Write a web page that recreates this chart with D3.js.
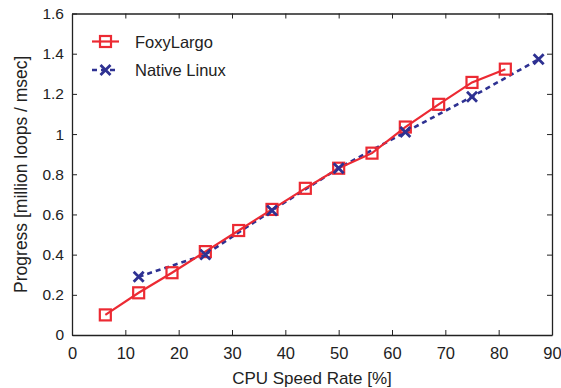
<!DOCTYPE html>
<html><head><meta charset="utf-8">
<script src="https://cdn.jsdelivr.net/npm/d3@7"></script>
<style>body{margin:0;background:#fff;} text{font-family:"Liberation Sans",Arial,sans-serif;}</style>
</head><body>
<svg id="c" width="561" height="388"></svg>
<script>
const foxyX = [6.25,12.5,18.75,25,31.25,37.5,43.75,50,56.25,62.5,68.75,75,81.25];
const foxyY = [0.10,0.21,0.31,0.415,0.52,0.625,0.73,0.83,0.905,1.035,1.148,1.257,1.323];
const nativeX = [12.5,25,37.5,50,62.5,75,87.5];
const nativeY = [0.29,0.40,0.62,0.83,1.01,1.186,1.372];
const xTicks = [0,10,20,30,40,50,60,70,80,90];
const yTicks = [0,0.2,0.4,0.6,0.8,1,1.2,1.4,1.6];
const seriesNames = ["FoxyLargo","Native Linux"];

const svg = d3.select("#c");
const L=72, R=552, T=13.5, B=335;
const x = d3.scaleLinear().domain([0,90]).range([L,R]);
const y = d3.scaleLinear().domain([0,1.6]).range([B,T]);
const red="#ec2a33", blue="#2e3192", ink="#222";

const fmt = d => String(d);
const gx = svg.append("g").attr("transform",`translate(0,${B})`)
  .call(d3.axisBottom(x).tickValues(xTicks).tickFormat(fmt).tickSizeInner(-5).tickSizeOuter(0).tickPadding(12));
svg.append("g").attr("transform",`translate(0,${T})`)
  .call(d3.axisTop(x).tickValues(xTicks).tickFormat("").tickSizeInner(-5).tickSizeOuter(0));
const gy = svg.append("g").attr("transform",`translate(${L},0)`)
  .call(d3.axisLeft(y).tickValues(yTicks).tickFormat(fmt).tickSizeInner(-5).tickSizeOuter(0).tickPadding(8));
svg.append("g").attr("transform",`translate(${R},0)`)
  .call(d3.axisRight(y).tickValues(yTicks).tickFormat("").tickSizeInner(-5).tickSizeOuter(0));
svg.selectAll(".domain").attr("stroke",ink).attr("stroke-width",1.3);
svg.selectAll(".tick line").attr("stroke",ink).attr("stroke-width",1);
svg.selectAll(".tick text").attr("fill",ink).attr("font-family","Liberation Sans, Arial, sans-serif");
gx.selectAll(".tick text").attr("font-size",16.5);
gy.selectAll(".tick text").attr("font-size",15.5);

svg.append("text").attr("x",(L+R)/2).attr("y",384).attr("text-anchor","middle")
  .attr("font-size",17).attr("fill",ink).text("CPU Speed Rate [%]");
svg.append("text").attr("transform",`translate(27,${(T+B)/2}) rotate(-90)`).attr("text-anchor","middle")
  .attr("font-size",17.5).attr("fill",ink).text("Progress [million loops / msec]");

const foxy = foxyX.map((v,i)=>[v,foxyY[i]]);
const nat = nativeX.map((v,i)=>[v,nativeY[i]]);
const line = d3.line().x(d=>x(d[0])).y(d=>y(d[1]));

svg.append("path").datum(nat).attr("d",line).attr("fill","none").attr("stroke",blue)
  .attr("stroke-width",2.6).attr("stroke-dasharray","5,4");
svg.append("path").datum(foxy).attr("d",line).attr("fill","none").attr("stroke",red).attr("stroke-width",2.2);

function square(g,cx,cy){g.append("rect").attr("x",cx-5.5).attr("y",cy-5.5).attr("width",11).attr("height",11)
  .attr("fill","none").attr("stroke",red).attr("stroke-width",2.2);}
function cross(g,cx,cy){const s=5;g.append("path").attr("d",`M${cx-s},${cy-s}L${cx+s},${cy+s}M${cx-s},${cy+s}L${cx+s},${cy-s}`)
  .attr("stroke",blue).attr("stroke-width",2.8);}
const mk = svg.append("g");
foxy.forEach(d=>square(mk,x(d[0]),y(d[1])));
nat.forEach(d=>cross(mk,x(d[0]),y(d[1])));

const lg = svg.append("g");
lg.append("line").attr("x1",92).attr("x2",119).attr("y1",41.5).attr("y2",41.5).attr("stroke",red).attr("stroke-width",2.2);
square(lg,105.5,41.5);
lg.append("line").attr("x1",92).attr("x2",119).attr("y1",70).attr("y2",70).attr("stroke",blue).attr("stroke-width",2.6).attr("stroke-dasharray","5,4");
cross(lg,105.5,70);
lg.append("text").attr("x",135).attr("y",47.5).attr("font-size",16.5).attr("fill",ink).text(seriesNames[0]);
lg.append("text").attr("x",135).attr("y",76).attr("font-size",16.5).attr("fill",ink).text(seriesNames[1]);
</script>
</body></html>
